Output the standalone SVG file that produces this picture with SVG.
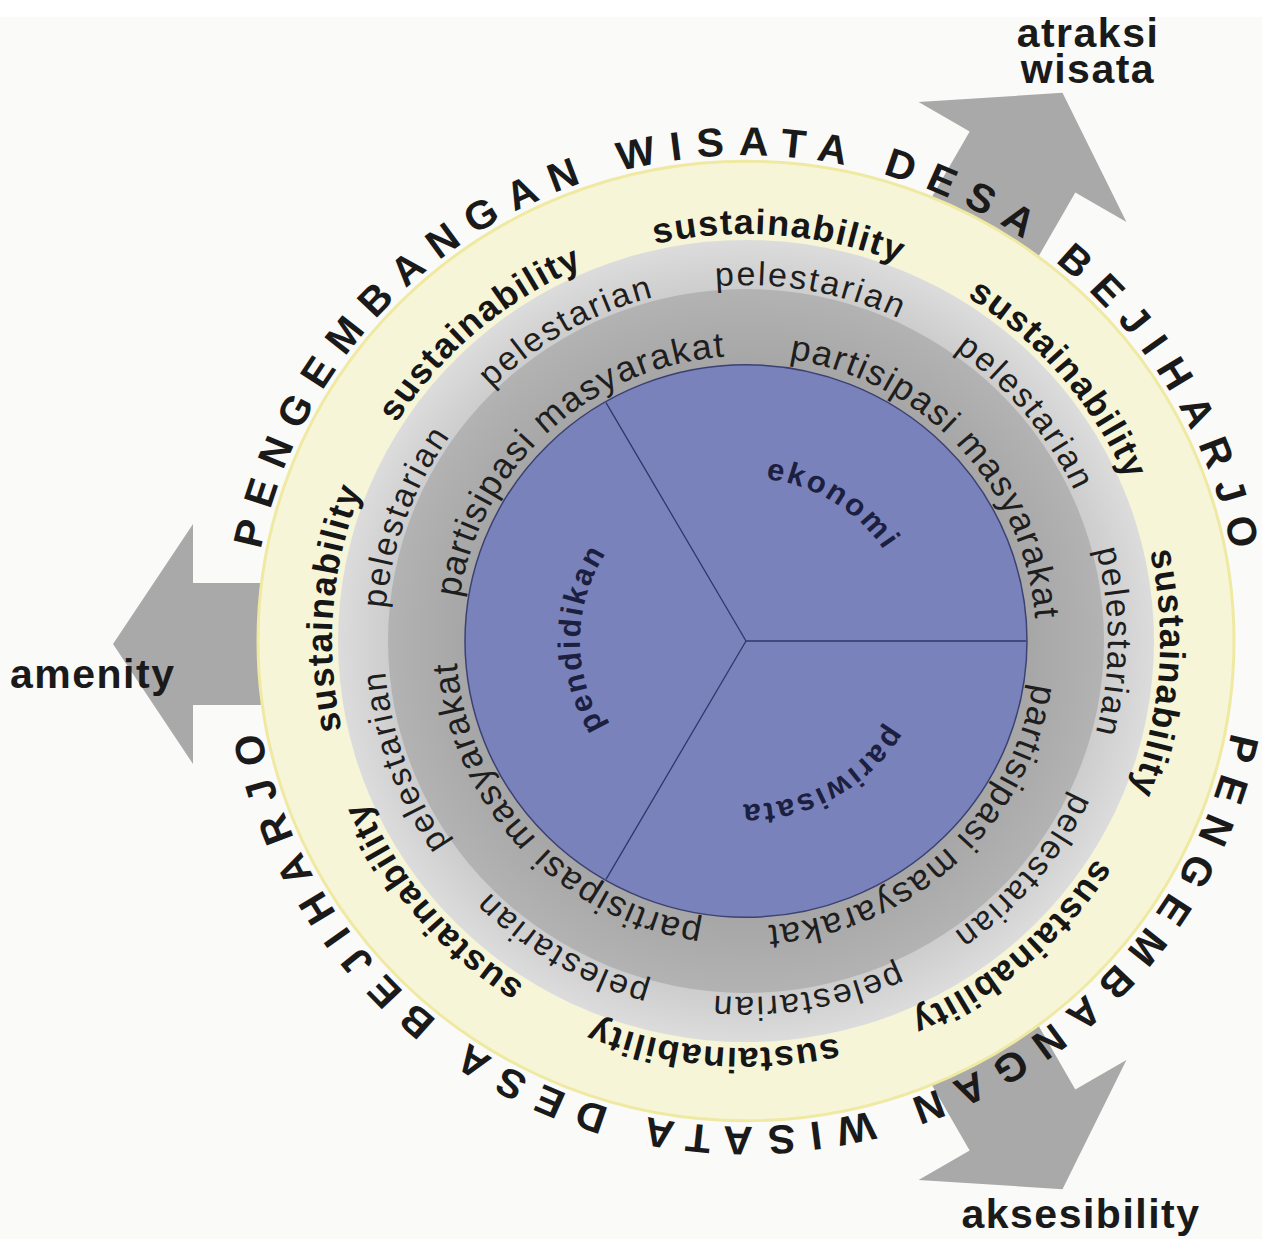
<svg xmlns="http://www.w3.org/2000/svg" width="1262" height="1239" viewBox="0 0 1262 1239">
<style>
.ot{font-family:"Liberation Sans",Arial,sans-serif;font-weight:bold;font-size:41px;letter-spacing:14.3px;fill:#1a1a1a}
.su{font-family:"Liberation Sans",Arial,sans-serif;font-weight:bold;font-size:36px;letter-spacing:1.4px;fill:#161616}
.pe{font-family:"Liberation Sans",Arial,sans-serif;font-size:34px;letter-spacing:2.2px;fill:#1e1e1e}
.pm{font-family:"Liberation Sans",Arial,sans-serif;font-size:36px;letter-spacing:1.5px;fill:#1e1e1e}
.in{font-family:"Liberation Sans",Arial,sans-serif;font-weight:bold;font-size:31px;letter-spacing:2.5px;fill:#1c2040}
.lb{font-family:"Liberation Sans",Arial,sans-serif;font-weight:bold;font-size:41px;letter-spacing:1.5px;fill:#1a1a1a}
.arrow{fill:#a9a9a9}
.div{stroke:#2f3769;stroke-width:1.3;fill:none}
</style>
<defs>
<path id="p494" d="M -494 0 A 494 494 0 1 1 494 0 A 494 494 0 1 1 -494 0 A 494 494 0 1 1 494 0 A 494 494 0 1 1 -494 0"/>
<path id="p414" d="M -414 0 A 414 414 0 1 1 414 0 A 414 414 0 1 1 -414 0 A 414 414 0 1 1 414 0 A 414 414 0 1 1 -414 0"/>
<path id="p362" d="M -362 0 A 362 362 0 1 1 362 0 A 362 362 0 1 1 -362 0 A 362 362 0 1 1 362 0 A 362 362 0 1 1 -362 0"/>
<path id="p290" d="M -290 0 A 290 290 0 1 1 290 0 A 290 290 0 1 1 -290 0 A 290 290 0 1 1 290 0 A 290 290 0 1 1 -290 0"/>
<path id="p166" d="M -166 0 A 166 166 0 1 1 166 0 A 166 166 0 1 1 -166 0 A 166 166 0 1 1 166 0 A 166 166 0 1 1 -166 0"/>
<radialGradient id="gLight" gradientUnits="userSpaceOnUse" cx="0" cy="0" r="408">
<stop offset="0.87" stop-color="#cccccc"/>
<stop offset="1" stop-color="#dcdcdc"/>
</radialGradient>
<radialGradient id="gDark" gradientUnits="userSpaceOnUse" cx="0" cy="0" r="359">
<stop offset="0.78" stop-color="#a6a6a6"/>
<stop offset="1" stop-color="#b3b3b3"/>
</radialGradient>
<polygon id="arrowShape" points="350,-61 553,-61 553,-120 633,0 553,120 553,61 350,61"/>
</defs>

<rect x="0" y="0" width="1262" height="1239" fill="#fafaf8"/>
<rect x="0" y="0" width="1262" height="17" fill="#ffffff"/>

<g id="arrow-amenity"><use href="#arrowShape" class="arrow" transform="translate(746,644) rotate(180)"/></g>
<g id="arrow-atraksi"><use href="#arrowShape" class="arrow" transform="translate(746,641) rotate(-60)"/></g>
<g id="arrow-aksesibility"><use href="#arrowShape" class="arrow" transform="translate(746,641) rotate(60)"/></g>

<g id="label-amenity"><text class="lb" x="10" y="688">amenity</text></g>
<g id="label-atraksi"><text class="lb" x="1088" y="47" text-anchor="middle">atraksi</text><text class="lb" x="1088" y="83" text-anchor="middle">wisata</text></g>
<g id="label-aksesibility"><text class="lb" x="1081" y="1228" text-anchor="middle">aksesibility</text></g>

<g id="wheel" transform="translate(746,641) scale(1,0.983)">
<g id="ring-yellow"><circle r="488" fill="#f7f5d8" stroke="#efe9a2" stroke-width="3"/></g>
<g id="ring-light"><circle r="408" fill="url(#gLight)"/></g>
<g id="ring-dark"><circle r="358" fill="url(#gDark)"/></g>
<g id="core"><circle r="281" fill="#7a82bb" stroke="#3b4272" stroke-width="1.5"/></g>
<g id="connectors">
<line class="div" x1="0" y1="0" x2="280" y2="0"/>
<line class="div" x1="0" y1="0" x2="-140" y2="242.5"/>
<line class="div" x1="0" y1="0" x2="-140" y2="-242.5"/>
</g>

<g id="outer-text">
<text class="ot" text-anchor="middle"><textPath href="#p494" startOffset="783">PENGEMBANGAN WISATA DESA BEJIHARJO</textPath></text>
<text class="ot" text-anchor="middle"><textPath href="#p494" startOffset="2335">PENGEMBANGAN WISATA DESA BEJIHARJO</textPath></text>
</g>

<g id="sustainability-text">
<text class="su" text-anchor="middle"><textPath href="#p414" startOffset="2634">sustainability</textPath></text>
<text class="su" text-anchor="middle"><textPath href="#p414" startOffset="2959">sustainability</textPath></text>
<text class="su" text-anchor="middle"><textPath href="#p414" startOffset="683">sustainability</textPath></text>
<text class="su" text-anchor="middle"><textPath href="#p414" startOffset="1008">sustainability</textPath></text>
<text class="su" text-anchor="middle"><textPath href="#p414" startOffset="1333">sustainability</textPath></text>
<text class="su" text-anchor="middle"><textPath href="#p414" startOffset="1658">sustainability</textPath></text>
<text class="su" text-anchor="middle"><textPath href="#p414" startOffset="1983">sustainability</textPath></text>
<text class="su" text-anchor="middle"><textPath href="#p414" startOffset="2309">sustainability</textPath></text>
</g>

<g id="pelestarian-text">
<text class="pe" text-anchor="middle"><textPath href="#p362" startOffset="2402">pelestarian</textPath></text>
<text class="pe" text-anchor="middle"><textPath href="#p362" startOffset="2655">pelestarian</textPath></text>
<text class="pe" text-anchor="middle"><textPath href="#p362" startOffset="633">pelestarian</textPath></text>
<text class="pe" text-anchor="middle"><textPath href="#p362" startOffset="886">pelestarian</textPath></text>
<text class="pe" text-anchor="middle"><textPath href="#p362" startOffset="1138">pelestarian</textPath></text>
<text class="pe" text-anchor="middle"><textPath href="#p362" startOffset="1391">pelestarian</textPath></text>
<text class="pe" text-anchor="middle"><textPath href="#p362" startOffset="1644">pelestarian</textPath></text>
<text class="pe" text-anchor="middle"><textPath href="#p362" startOffset="1897">pelestarian</textPath></text>
<text class="pe" text-anchor="middle"><textPath href="#p362" startOffset="2149">pelestarian</textPath></text>
</g>

<g id="partisipasi-text">
<text class="pm" text-anchor="middle"><textPath href="#p290" startOffset="2061">partisipasi masyarakat</textPath></text>
<text class="pm" text-anchor="middle"><textPath href="#p290" startOffset="694">partisipasi masyarakat</textPath></text>
<text class="pm" text-anchor="middle"><textPath href="#p290" startOffset="1150">partisipasi masyarakat</textPath></text>
<text class="pm" text-anchor="middle"><textPath href="#p290" startOffset="1605">partisipasi masyarakat</textPath></text>
</g>

<g id="sector-labels">
<text class="in" text-anchor="middle"><textPath href="#p166" startOffset="353">ekonomi</textPath></text>
<text class="in" text-anchor="middle"><textPath href="#p166" startOffset="699">pariwisata</textPath></text>
<text class="in" text-anchor="middle"><textPath href="#p166" startOffset="1045">pendidikan</textPath></text>
</g>
</g>
</svg>
